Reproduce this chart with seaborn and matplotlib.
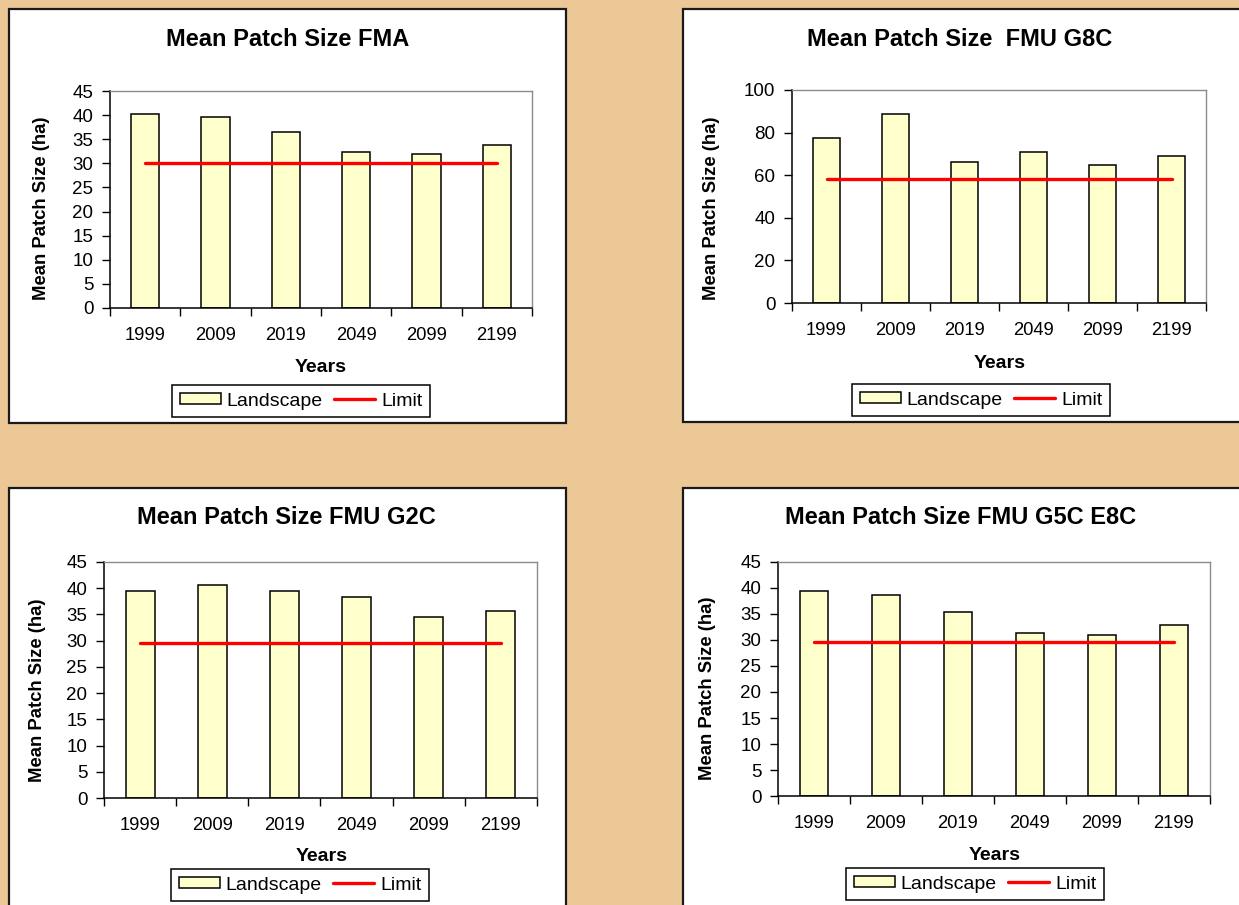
import matplotlib
matplotlib.use("Agg")
import matplotlib.pyplot as plt
from matplotlib.patches import Rectangle, Patch
from matplotlib.lines import Line2D
from matplotlib.ticker import MultipleLocator, FixedLocator
import seaborn as sns
import numpy as np

# ---------------- data ----------------
years = ["1999", "2009", "2019", "2049", "2099", "2199"]

fma_values = [40.2, 39.7, 36.4, 32.3, 31.9, 33.9]
fma_limit = 30.0

g8c_values = [77.5, 88.6, 66.0, 70.7, 64.8, 68.9]
g8c_limit = 58.0

g2c_values = [39.4, 40.7, 39.4, 38.3, 34.6, 35.6]
g2c_limit = 29.5

g5c_values = [39.4, 38.6, 35.3, 31.3, 30.9, 32.9]
g5c_limit = 29.6

titles = ["Mean Patch Size FMA", "Mean Patch Size  FMU G8C",
          "Mean Patch Size FMU G2C", "Mean Patch Size FMU G5C E8C"]

# ---------------- style ----------------
sns.set_style("white")
plt.rcParams["font.family"] = ["Liberation Sans", "DejaVu Sans"]
for k in ["text.color", "axes.labelcolor", "xtick.color", "ytick.color"]:
    plt.rcParams[k] = "black"

W, H = 1239, 905
DPI = 100
BG = "#ECC896"
BAR = "#FFFFCC"

fig = plt.figure(figsize=(W / DPI, H / DPI), dpi=DPI, facecolor=BG)


def fx(px):
    return px / W


def fy(py):
    return 1 - py / H


def fig_rect(x0, y0, x1, y1):
    # pixel box (top-left origin) -> figure fraction rect
    return [fx(x0), fy(y1), fx(x1) - fx(x0), fy(y0) - fy(y1)]


# panel boxes (pixels)
panels = [(9, 9, 566, 423), (683, 9, 1260, 422),
          (9, 488, 566, 930), (683, 488, 1260, 930)]
for (x0, y0, x1, y1) in panels:
    fig.patches.append(Rectangle((fx(x0), fy(y1)), fx(x1) - fx(x0), fy(y0) - fy(y1),
                                 transform=fig.transFigure, facecolor="white",
                                 edgecolor="#1a1a1a", linewidth=1.6, zorder=-5))

configs = [
    dict(values=fma_values, limit=fma_limit, ymax=45, step=5,
         plot=(110, 91, 532, 308), title=(288, 46), ylab=(42, 208), xlab=(321, 367),
         leg=(301, 401)),
    dict(values=g8c_values, limit=g8c_limit, ymax=100, step=20,
         plot=(792, 90, 1206, 303), title=(960, 46), ylab=(712, 208), xlab=(1000, 363),
         leg=(981, 400)),
    dict(values=g2c_values, limit=g2c_limit, ymax=45, step=5,
         plot=(104, 562, 537, 798), title=(286, 524), ylab=(38, 690), xlab=(322, 856),
         leg=(300, 885)),
    dict(values=g5c_values, limit=g5c_limit, ymax=45, step=5,
         plot=(778, 562, 1210, 796), title=(961, 524), ylab=(707, 688), xlab=(995, 855),
         leg=(975, 884)),
]

for title, cfg in zip(titles, configs):
    ax = fig.add_axes(fig_rect(*cfg["plot"]))
    ax.set_zorder(1)
    ax.set_facecolor("white")
    sns.barplot(x=years, y=cfg["values"], ax=ax, color=BAR, saturation=1,
                edgecolor="black", linewidth=1.1, width=0.4, zorder=2)
    sns.lineplot(x=np.arange(len(years)), y=[cfg["limit"]] * len(years), ax=ax,
                 color="#FF0000", linewidth=2.4, zorder=3)
    ax.set_xlim(-0.5, len(years) - 0.5)
    ax.set_ylim(0, cfg["ymax"])
    ax.yaxis.set_major_locator(MultipleLocator(cfg["step"]))

    # spines
    for s in ["left", "bottom"]:
        ax.spines[s].set_color("black")
        ax.spines[s].set_linewidth(1.1)
    for s in ["top", "right"]:
        ax.spines[s].set_color("#8c8c8c")
        ax.spines[s].set_linewidth(1.0)

    # ticks
    ax.xaxis.set_minor_locator(FixedLocator(np.arange(-0.5, len(years), 1.0)))
    ax.tick_params(axis="x", which="major", length=0, pad=13.5, labelsize=13.2)
    ax.tick_params(axis="x", which="minor", length=6, width=1, color="black",
                   direction="out", bottom=True)
    ax.tick_params(axis="y", which="major", length=6, width=1, color="black",
                   direction="out", left=True, pad=6, labelsize=13.5)

    ax.set_xlabel("Years", fontsize=14, fontweight="bold")
    ax.set_ylabel("Mean Patch Size (ha)", fontsize=13.3, fontweight="bold")
    ax.xaxis.set_label_coords(fx(cfg["xlab"][0]), fy(cfg["xlab"][1]),
                              transform=fig.transFigure)
    ax.xaxis.label.set_verticalalignment("center")
    ax.yaxis.set_label_coords(fx(cfg["ylab"][0]), fy(cfg["ylab"][1]),
                              transform=fig.transFigure)
    ax.yaxis.label.set_verticalalignment("center")

    fig.text(fx(cfg["title"][0]), fy(cfg["title"][1]), title, ha="center",
             va="baseline", fontsize=17, fontweight="bold")

    handles = [Patch(facecolor=BAR, edgecolor="black", linewidth=1.1),
               Line2D([], [], color="#FF0000", linewidth=2.4)]
    leg = ax.legend(handles, ["Landscape", "Limit"], loc="center",
                    bbox_to_anchor=(fx(cfg["leg"][0]), fy(cfg["leg"][1])),
                    bbox_transform=fig.transFigure, ncol=2, frameon=True,
                    fancybox=False, edgecolor="black", framealpha=1,
                    fontsize=14, borderpad=0.4, handlelength=2.1,
                    handleheight=0.55, handletextpad=0.3, columnspacing=0.6,
                    borderaxespad=0)
    leg.get_frame().set_linewidth(1.1)

fig.savefig("out.png", dpi=DPI, facecolor=BG)
